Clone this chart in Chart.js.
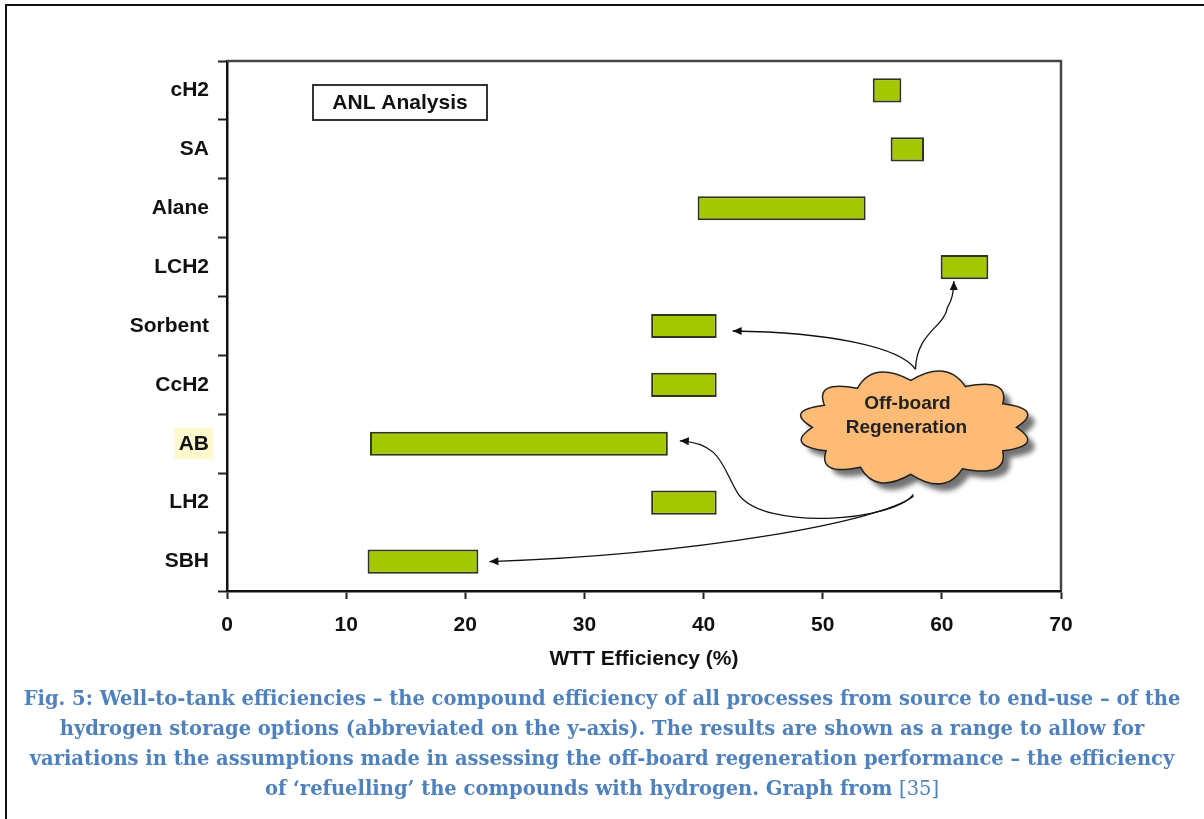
<!DOCTYPE html>
<html>
<head>
<meta charset="utf-8">
<script src="https://cdn.jsdelivr.net/npm/chart.js@4.4.1/dist/chart.umd.min.js"></script>
<style>
  html, body { margin: 0; padding: 0; background: #fff; }
  #wrap { position: relative; width: 1204px; height: 819px; overflow: hidden; }
  #frame { position: absolute; left: 5px; top: 4px; width: 1250px; height: 900px;
           border-top: 2px solid #111; border-left: 2px solid #111; }
  #myChart { position: absolute; left: 0; top: 0; }
  #caption { position: absolute; left: 0; top: 684px; width: 1204px; text-align: center;
             font-family: "DejaVu Serif", serif; font-weight: bold; font-size: 19.5px;
             line-height: 30px; color: #4f81bd; white-space: nowrap; }
  #caption .ref { font-weight: normal; }
</style>
</head>
<body>
<div id="wrap">
  <div id="frame"></div>
  <canvas id="myChart" width="1204" height="819"></canvas>
  <div id="caption">
    Fig. 5: Well-to-tank efficiencies – the compound efficiency of all processes from source to end-use – of the<br>
    hydrogen storage options (abbreviated on the y-axis). The results are shown as a range to allow for<br>
    variations in the assumptions made in assessing the off-board regeneration performance – the efficiency<br>
    of ‘refuelling’ the compounds with hydrogen. Graph from <span class="ref">[35]</span>
  </div>
</div>
<script>
var categories = ["cH2", "SA", "Alane", "LCH2", "Sorbent", "CcH2", "AB", "LH2", "SBH"];
var rangeLow = [54.2, 55.7, 39.5, 59.9, 35.6, 35.6, 12.0, 35.6, 11.8];
var rangeHigh = [56.6, 58.5, 53.6, 63.9, 41.1, 41.1, 37.0, 41.1, 21.1];
var highlighted = "AB";

var font = "'Liberation Sans', Arial, sans-serif";

var ranges = categories.map(function (c, i) {
  return [rangeLow[i], rangeHigh[i]];
});

function arrowTo(ctx, sx, sy, segs) {
  ctx.beginPath();
  ctx.moveTo(sx, sy);
  segs.forEach(function (s) {
    ctx.bezierCurveTo(s[0], s[1], s[2], s[3], s[4], s[5]);
  });
  ctx.stroke();
  var last = segs[segs.length - 1];
  var ex = last[4], ey = last[5];
  var a = Math.atan2(ey - last[3], ex - last[2]);
  ctx.beginPath();
  ctx.moveTo(ex, ey);
  ctx.lineTo(ex - 9 * Math.cos(a) + 4 * Math.sin(a), ey - 9 * Math.sin(a) - 4 * Math.cos(a));
  ctx.lineTo(ex - 9 * Math.cos(a) - 4 * Math.sin(a), ey - 9 * Math.sin(a) + 4 * Math.cos(a));
  ctx.closePath();
  ctx.fill();
}

function cloudPath(ctx, cx, cy, rx, ry) {
  var angles = [0, 30, 62, 92, 122, 150, 180, 208, 236, 268, 300, 330];
  var n = angles.length;
  ctx.beginPath();
  for (var i = 0; i <= n; i++) {
    var a1 = angles[i % n] * Math.PI / 180;
    var p1x = cx + rx * Math.cos(a1), p1y = cy + ry * Math.sin(a1);
    if (i === 0) { ctx.moveTo(p1x, p1y); continue; }
    var a0 = angles[i - 1] * Math.PI / 180;
    var a2 = angles[i % n] * Math.PI / 180 + (i === n ? 2 * Math.PI : 0);
    var am = (a0 + a2) / 2;
    var qx = cx + rx * 1.32 * Math.cos(am), qy = cy + ry * 1.5 * Math.sin(am);
    ctx.quadraticCurveTo(qx, qy, p1x, p1y);
  }
  ctx.closePath();
}

var extras = {
  id: "extras",
  afterDatasetsDraw: function (chart) {
    var ctx = chart.ctx, area = chart.chartArea;
    var xs = chart.scales.x, ys = chart.scales.y;
    ctx.save();

    // top and right edges of the plot frame
    ctx.strokeStyle = "#444";
    ctx.lineWidth = 2.5;
    ctx.beginPath();
    ctx.moveTo(area.left, area.top);
    ctx.lineTo(area.right, area.top);
    ctx.lineTo(area.right, area.bottom);
    ctx.stroke();

    // "ANL Analysis" box
    ctx.fillStyle = "#fff";
    ctx.strokeStyle = "#333";
    ctx.lineWidth = 2;
    ctx.fillRect(area.left + 86, area.top + 24, 174, 35);
    ctx.strokeRect(area.left + 86, area.top + 24, 174, 35);
    ctx.fillStyle = "#111";
    ctx.font = "bold 21px " + font;
    ctx.textAlign = "center";
    ctx.textBaseline = "middle";
    ctx.fillText("ANL Analysis", area.left + 173, area.top + 42);

    // cloud
    var cx = xs.getPixelForValue(57.7), cy = ys.getPixelForValue(5.72);
    ctx.save();
    ctx.shadowColor = "rgba(0,0,0,0.55)";
    ctx.shadowOffsetX = 7;
    ctx.shadowOffsetY = 7;
    ctx.shadowBlur = 5;
    cloudPath(ctx, cx, cy, 102, 47);
    ctx.fillStyle = "#fdbb76";
    ctx.fill();
    ctx.restore();
    cloudPath(ctx, cx, cy, 102, 47);
    ctx.strokeStyle = "#222";
    ctx.lineWidth = 1.5;
    ctx.stroke();
    ctx.fillStyle = "#222";
    ctx.font = "bold 19px " + font;
    ctx.fillText("Off-board", cx - 7, cy - 24);
    ctx.fillText("Regeneration", cx - 8, cy);

    // arrows from the cloud to the bars
    ctx.strokeStyle = "#111";
    ctx.fillStyle = "#111";
    ctx.lineWidth = 1.3;
    var bw = 12;
    var iL = categories.indexOf("LCH2");
    var t1x = xs.getPixelForValue(61.0), t1y = ys.getPixelForValue(iL) + bw + 2;
    arrowTo(ctx, cx + 1, cy - 58, [
      [cx + 2, cy - 95, cx + 30, cy - 100, cx + 33, cy - 120],
      [t1x - 2, t1y + 20, t1x, t1y + 12, t1x, t1y]
    ]);
    var iS = categories.indexOf("Sorbent");
    var t2x = xs.getPixelForValue(rangeHigh[iS]) + 16, t2y = ys.getPixelForValue(iS) + 5;
    arrowTo(ctx, cx + 1, cy - 58, [[cx - 14, cy - 80, cx - 84, cy - 95, t2x, t2y]]);
    var iA = categories.indexOf("AB");
    var t3x = xs.getPixelForValue(rangeHigh[iA]) + 12, t3y = ys.getPixelForValue(iA) - 3;
    arrowTo(ctx, cx - 1, cy + 67, [
      [cx - 21, cy + 94, cx - 149, cy + 104, cx - 176, cy + 67],
      [cx - 192, cy + 42, cx - 192, t3y + 2, t3x, t3y]
    ]);
    var iB = categories.indexOf("SBH");
    var t4x = xs.getPixelForValue(rangeHigh[iB]) + 11, t4y = ys.getPixelForValue(iB);
    arrowTo(ctx, cx - 1, cy + 69, [[cx - 34, cy + 94, cx - 214, cy + 127, t4x, t4y]]);

    ctx.restore();
  }
};

var ctx = document.getElementById("myChart").getContext("2d");
var myChart = new Chart(ctx, {
  type: "bar",
  data: {
    labels: categories,
    datasets: [{
      data: ranges,
      backgroundColor: "#a3c800",
      borderColor: "#2f3320",
      borderWidth: 2,
      borderSkipped: false,
      barPercentage: 0.41,
      categoryPercentage: 1
    }]
  },
  options: {
    indexAxis: "y",
    responsive: false,
    animation: false,
    devicePixelRatio: 1,
    layout: { padding: { left: 127, right: 143, top: 61, bottom: 128 } },
    plugins: { legend: { display: false }, tooltip: { enabled: false } },
    scales: {
      x: {
        min: 0,
        max: 70,
        afterFit: function (s) { s.height = 100; },
        ticks: { stepSize: 10, padding: 14, color: "#111", font: { family: font, size: 21, weight: "bold" } },
        grid: { drawOnChartArea: false, tickLength: 8, tickWidth: 2, tickColor: "#222" },
        border: { color: "#111", width: 2.5 },
        title: { display: true, text: "WTT Efficiency (%)", color: "#111",
                 padding: { top: 0, bottom: 19 }, font: { family: font, size: 21, weight: "bold" } }
      },
      y: {
        afterFit: function (s) { s.width = 100; },
        ticks: {
          padding: 9,
          color: "#111",
          font: { family: font, size: 21, weight: "bold" },
          showLabelBackdrop: true,
          backdropPadding: { x: 4, y: 3 },
          backdropColor: function (c) {
            return categories[c.index] === highlighted ? "#fdf9cc" : "rgba(0,0,0,0)";
          }
        },
        grid: { drawOnChartArea: false, offset: true, tickLength: 9, tickWidth: 2, tickColor: "#222" },
        border: { color: "#111", width: 2.5 }
      }
    }
  },
  plugins: [extras]
});
</script>
</body>
</html>
